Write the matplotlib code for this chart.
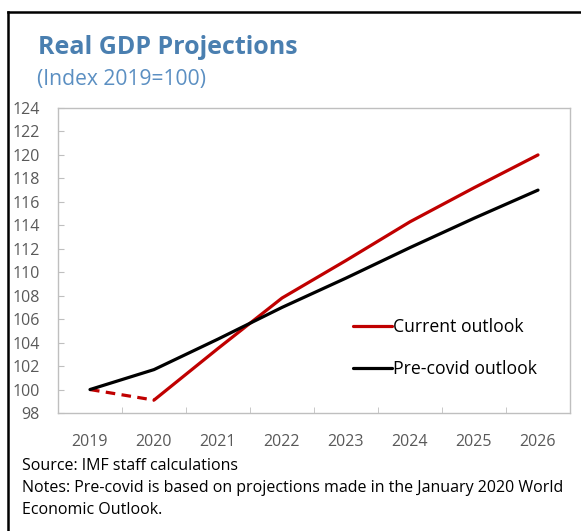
import matplotlib
matplotlib.use("Agg")
import matplotlib.pyplot as plt
from matplotlib.lines import Line2D
from matplotlib.ticker import FixedLocator

years = ["2019", "2020", "2021", "2022", "2023", "2024", "2025", "2026"]
current = [100.0, 99.1, 103.5, 107.8, 111.0, 114.3, 117.2, 120.0]
precovid = [100.0, 101.7, 104.3, 107.0, 109.5, 112.1, 114.6, 117.0]
yticks = list(range(98, 125, 2))

W, H = 581, 531
fig = plt.figure(figsize=(W / 100, H / 100), dpi=100)
plt.rcParams['font.family'] = ['Open Sans', 'DejaVu Sans']

def fx(px):
    return px / W

def fy(py):
    return 1 - py / H

# outer frame (left and top edges visible)
fig.lines.append(Line2D([fx(8), fx(8)], [fy(12), fy(540)], transform=fig.transFigure,
                        color='black', linewidth=1.8))
fig.lines.append(Line2D([fx(8), fx(600)], [fy(12), fy(12)], transform=fig.transFigure,
                        color='black', linewidth=1.8))

ax = fig.add_axes([fx(58), fy(413), fx(570) - fx(58), fy(108) - fy(413)])
x = list(range(len(years)))

# Current outlook: dashed 2019-2020, solid thereafter
ax.plot(x[:2], current[:2], color='#c00000', linewidth=2.3, linestyle=(0, (3, 2)),
        dash_capstyle='butt')
ax.plot(x[1:], current[1:], color='#c00000', linewidth=2.3, label='Current outlook',
        solid_capstyle='round')
ax.plot(x, precovid, color='black', linewidth=2.3, label='Pre-covid outlook',
        solid_capstyle='round')

ax.set_xlim(-0.5, len(years) - 0.5)
ax.set_ylim(98, 124)
ax.set_yticks(yticks)
ax.set_yticklabels([str(v) for v in yticks])
ax.set_xticks(x)
ax.set_xticklabels(years)
ax.xaxis.set_minor_locator(FixedLocator([i + 0.5 for i in range(len(years) - 1)]))

for s in ax.spines.values():
    s.set_color('#bfbfbf')
    s.set_linewidth(1.0)

ax.tick_params(axis='x', which='major', length=0, pad=15, labelsize=11.5, labelcolor='#595959')
ax.tick_params(axis='x', which='minor', direction='in', length=4, color='#bfbfbf')
ax.tick_params(axis='y', which='major', direction='in', length=4, color='#bfbfbf',
               pad=13, labelsize=11.5, labelcolor='#595959')

leg = ax.legend(loc='upper left', bbox_to_anchor=(fx(344), fy(309)),
                bbox_transform=fig.transFigure, frameon=False, fontsize=12.7,
                handlelength=2.2, handletextpad=0.05, labelspacing=1.38,
                borderpad=0)

fig.text(fx(38), fy(47), "Real GDP Projections", fontsize=18, fontweight='bold',
         color='#4a7fb0', va='center', ha='left')
fig.text(fx(37), fy(80), "(Index 2019=100)", fontsize=15.2, color='#5b8fc2',
         va='center', ha='left')

fig.text(fx(22), fy(466), "Source: IMF staff calculations", fontsize=11.5,
         color='black', va='center', ha='left')
fig.text(fx(22), fy(488), "Notes: Pre-covid is based on projections made in the January 2020 World",
         fontsize=11.5, color='black', va='center', ha='left')
fig.text(fx(22), fy(510), "Economic Outlook.", fontsize=11.5, color='black',
         va='center', ha='left')

fig.savefig("out.png", dpi=100)
